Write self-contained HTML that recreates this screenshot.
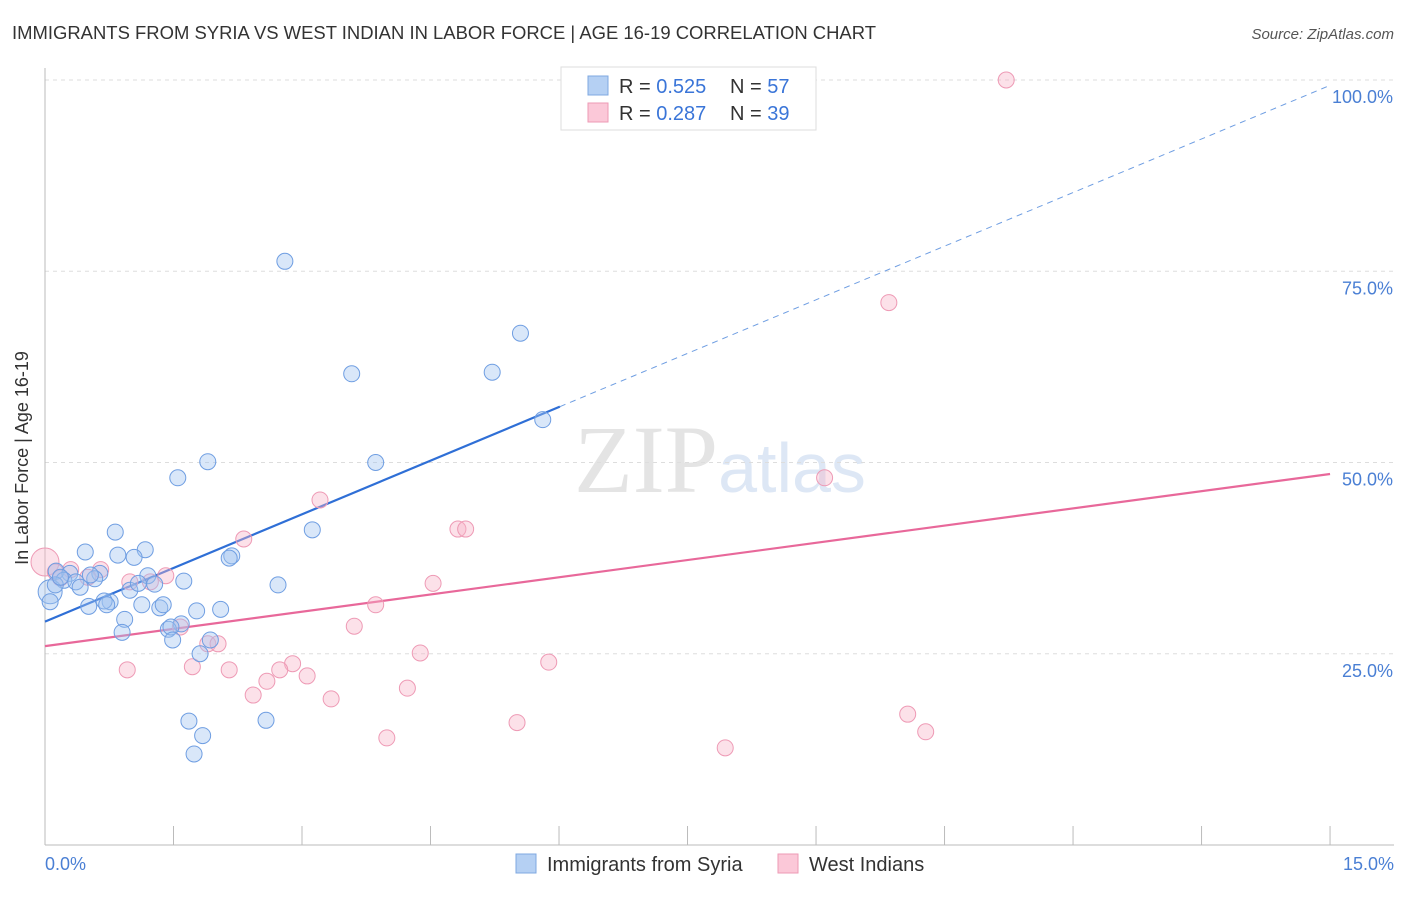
<!DOCTYPE html>
<html><head><meta charset="utf-8"><style>
body{margin:0;background:#fff;font-family:"Liberation Sans",sans-serif}
</style></head><body>
<svg width="1406" height="892" xmlns="http://www.w3.org/2000/svg" style="font-family:'Liberation Sans',sans-serif">
<text x="12" y="39" font-size="18" fill="#333" textLength="864" lengthAdjust="spacingAndGlyphs">IMMIGRANTS FROM SYRIA VS WEST INDIAN IN LABOR FORCE | AGE 16-19 CORRELATION CHART</text>
<text x="1394" y="39" font-size="15" fill="#555" font-style="italic" text-anchor="end">Source: ZipAtlas.com</text>
<text x="720" y="492" font-size="96" fill="#e4e4e4" text-anchor="middle" font-family="Liberation Serif,serif">ZIP<tspan fill="#dde7f5" font-family="Liberation Sans,sans-serif" font-size="70">atlas</tspan></text>
<g id="grid"></g>
<line x1="45" y1="68" x2="45" y2="845" stroke="#bbb"/>
<line x1="45" y1="845" x2="1394" y2="845" stroke="#bbb"/>
<g id="ticks"></g>
<text x="28" y="458" font-size="18" fill="#333" text-anchor="middle" transform="rotate(-90 28 458)">In Labor Force | Age 16-19</text>
<text x="45" y="870" font-size="18" fill="#4a7fd4">0.0%</text>
<text x="1394" y="870" font-size="18" fill="#4a7fd4" text-anchor="end">15.0%</text>
<g id="lines"></g>
<g id="pts"></g>
<g>
<rect x="561" y="67" width="255" height="63" fill="#fff" stroke="#ddd"/>
<rect x="588" y="76" width="20" height="19" fill="#b5d0f3" stroke="#7fa8e0"/>
<rect x="588" y="103" width="20" height="19" fill="#fbc8d8" stroke="#ee9ab5"/>
<text x="619" y="93" font-size="20" fill="#333">R = <tspan fill="#3a75d8">0.525</tspan></text>
<text x="730" y="93" font-size="20" fill="#333">N = <tspan fill="#3a75d8">57</tspan></text>
<text x="619" y="120" font-size="20" fill="#333">R = <tspan fill="#3a75d8">0.287</tspan></text>
<text x="730" y="120" font-size="20" fill="#333">N = <tspan fill="#3a75d8">39</tspan></text>
</g>
<g>
<rect x="516" y="854" width="20" height="19" fill="#b5d0f3" stroke="#7fa8e0"/>
<text x="547" y="871" font-size="20" fill="#333">Immigrants from Syria</text>
<rect x="778" y="854" width="20" height="19" fill="#fbc8d8" stroke="#ee9ab5"/>
<text x="809" y="871" font-size="20" fill="#333">West Indians</text>
</g>
</svg>
<script>
const yTicks=[25,50,75,100];
const yTickLabels=["25.0%","50.0%","75.0%","100.0%"];
const xTicks=[0,1.5,3,4.5,6,7.5,9,10.5,12,13.5,15];
const syriaX=[2.8,5.55,3.58,5.22,5.81,1.9,3.86,1.55,3.12,0.82,1.17,0.47,0.85,1.04,2.18,2.15,0.13,0.29,0.64,1.2,0.22,0.36,1.62,0.58,2.72,1.28,0.99,1.09,0.41,0.06,0.06,0.76,0.69,1.13,1.77,2.05,0.51,0.72,1.34,1.38,0.93,1.59,1.44,1.47,0.9,1.49,1.93,1.81,1.68,2.58,1.84,1.74,0.12,0.18,0.53];
const syriaY=[76.3,66.9,61.6,61.8,55.6,50.1,50.0,48.0,41.2,40.9,38.6,38.3,37.9,37.6,37.8,37.5,35.8,35.5,35.5,35.2,34.6,34.4,34.5,34.8,34.0,34.1,33.3,34.2,33.7,33.1,31.8,31.8,31.9,31.4,30.6,30.8,31.2,31.4,31.0,31.4,29.5,28.9,28.2,28.5,27.8,26.8,26.8,25.0,16.2,16.3,14.3,11.9,34.0,35.0,35.3];
const wiX=[11.22,9.85,9.1,3.21,2.32,4.82,4.91,4.53,3.86,3.61,1.58,0.3,0.65,0.99,1.41,0.0,0.12,4.38,5.88,0.96,1.72,2.15,1.9,2.02,2.89,2.74,3.06,2.59,2.43,3.34,4.23,5.51,3.99,7.94,10.07,10.28,0.5,1.23,0.18];
const wiY=[100.0,70.9,48.0,45.1,40.0,41.3,41.3,34.2,31.4,28.6,28.5,36.0,36.0,34.4,35.2,37.0,35.7,25.1,23.9,22.9,23.3,22.9,26.3,26.3,23.7,22.9,22.1,21.4,19.6,19.1,20.5,16.0,14.0,12.7,17.1,14.8,35.0,34.4,34.9];
const syriaLineX=[0,6.01];const syriaLineY=[29.2,57.3];
const syriaDashX=[6.01,15];const syriaDashY=[57.3,99.3];
const wiLineX=[0,15];const wiLineY=[26.0,48.5];
const X=v=>45+v*85.67, Y=v=>845-v*7.65;
const NS="http://www.w3.org/2000/svg";
function mk(t,a,p){const e=document.createElementNS(NS,t);for(const k in a)e.setAttribute(k,a[k]);p.appendChild(e);return e;}
const grid=document.getElementById('grid'),ticks=document.getElementById('ticks'),lines=document.getElementById('lines'),pts=document.getElementById('pts');
yTicks.forEach((v,i)=>{
 const l=mk('line',{x1:45,x2:1394,y1:Y(v),y2:Y(v),stroke:'#ddd','stroke-dasharray':'4,4'},grid);
 
 
 const t=mk('text',{x:1393,y:Y(v)+23,'font-size':18,fill:'#4a7fd4','text-anchor':'end'},grid);
 t.textContent=yTickLabels[i];
 
 
});
xTicks.forEach(v=>{
 const l=mk('line',{x1:X(v),x2:X(v),y1:826,y2:845,stroke:'#bbb'},ticks);
 
 
});
let l1=mk('line',{x1:X(syriaLineX[0]),y1:Y(syriaLineY[0]),x2:X(syriaLineX[1]),y2:Y(syriaLineY[1]),stroke:'#2f6fd6','stroke-width':2.2},lines);


let l2=mk('line',{x1:X(syriaDashX[0]),y1:Y(syriaDashY[0]),x2:X(syriaDashX[1]),y2:Y(syriaDashY[1]),stroke:'#6f9ee2','stroke-width':1,'stroke-dasharray':'6,5'},lines);


let l3=mk('line',{x1:X(wiLineX[0]),y1:Y(wiLineY[0]),x2:X(wiLineX[1]),y2:Y(wiLineY[1]),stroke:'#e8689a','stroke-width':2.2},lines);


wiX.forEach((v,i)=>{
 const c=mk('circle',{cx:X(v),cy:Y(wiY[i]),r:i==15?14:8,fill:'rgba(248,180,200,0.4)',stroke:'#ee9ab5','stroke-width':1},pts);
 
 
});
syriaX.forEach((v,i)=>{
 const c=mk('circle',{cx:X(v),cy:Y(syriaY[i]),r:i==29?12:8,fill:'rgba(160,195,240,0.4)',stroke:'#6f9ee2','stroke-width':1},pts);
 
 
});
</script>
</body></html>
